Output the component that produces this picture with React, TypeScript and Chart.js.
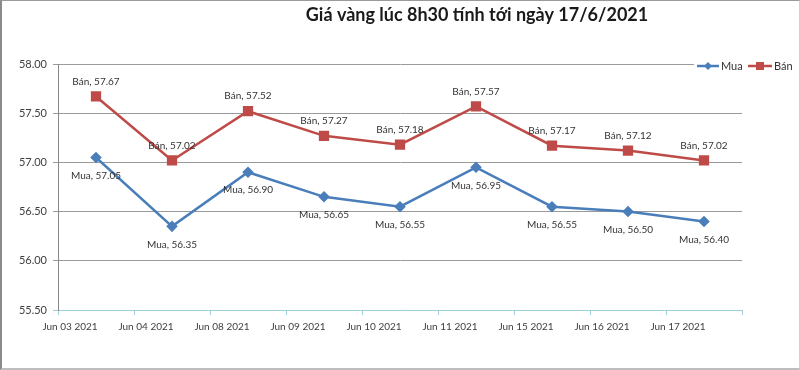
import React, { useEffect, useRef } from "react";
import { Chart, registerables } from "chart.js";

Chart.register(...registerables);

const categories = [
  "Jun 03 2021", "Jun 04 2021", "Jun 08 2021", "Jun 09 2021", "Jun 10 2021",
  "Jun 11 2021", "Jun 15 2021", "Jun 16 2021", "Jun 17 2021",
];
const muaValues = [57.05, 56.35, 56.9, 56.65, 56.55, 56.95, 56.55, 56.5, 56.4];
const banValues = [57.67, 57.02, 57.52, 57.27, 57.18, 57.57, 57.17, 57.12, 57.02];
const seriesNames = ["Mua", "Bán"];
const titleText = "Giá vàng lúc 8h30 tính tới ngày 17/6/2021";

const BLUE = "#4a7ebb";
const RED = "#be4b48";
const FONT = "Lato, 'Open Sans', sans-serif";

const extrasPlugin = {
  id: "extras",
  afterDatasetsDraw(chart: any) {
    const ctx = chart.ctx;
    ctx.save();
    // data labels
    ctx.font = `10px ${FONT}`;
    ctx.fillStyle = "#333";
    ctx.textAlign = "center";
    ctx.textBaseline = "middle";
    chart.data.datasets.forEach((ds: any, di: number) => {
      const meta = chart.getDatasetMeta(di);
      meta.data.forEach((pt: any, i: number) => {
        const off = di === 0 ? 18 : -15;
        ctx.fillText(`${ds.label}, ${ds.data[i].toFixed(2)}`, pt.x, pt.y + off);
      });
    });
    // title
    ctx.font = `bold 18px ${FONT}`;
    ctx.fillStyle = "#1a1a1a";
    ctx.fillText(titleText, 477, 15);
    // legend
    ctx.fillStyle = "#fff";
    ctx.fillRect(694, 58, 104, 15);
    const ly = 66;
    const items = [
      { x: 697, w: 22, color: BLUE, name: seriesNames[0], shape: "diamond" },
      { x: 748, w: 24, color: RED, name: seriesNames[1], shape: "square" },
    ];
    items.forEach((it) => {
      ctx.strokeStyle = it.color;
      ctx.lineWidth = 2.5;
      ctx.beginPath();
      ctx.moveTo(it.x, ly);
      ctx.lineTo(it.x + it.w, ly);
      ctx.stroke();
      ctx.fillStyle = it.color;
      const cx = it.x + it.w / 2;
      if (it.shape === "diamond") {
        ctx.beginPath();
        ctx.moveTo(cx, ly - 4);
        ctx.lineTo(cx + 4, ly);
        ctx.lineTo(cx, ly + 4);
        ctx.lineTo(cx - 4, ly);
        ctx.closePath();
        ctx.fill();
      } else {
        ctx.fillRect(cx - 4, ly - 4, 8, 8);
      }
      ctx.fillStyle = "#333";
      ctx.font = `11px ${FONT}`;
      ctx.textAlign = "left";
      ctx.fillText(it.name, it.x + it.w + 2, ly);
    });
    ctx.restore();
  },
};

export default function App() {
  const ref = useRef<HTMLCanvasElement>(null);
  useEffect(() => {
    if (!ref.current) return;
    const chart = new Chart(ref.current, {
      type: "line",
      data: {
        labels: categories,
        datasets: [
          {
            label: seriesNames[0],
            data: muaValues,
            borderColor: BLUE,
            backgroundColor: BLUE,
            borderWidth: 2.5,
            pointStyle: "rectRot",
            pointRadius: 4,
            pointHoverRadius: 4,
            tension: 0,
          },
          {
            label: seriesNames[1],
            data: banValues,
            borderColor: RED,
            backgroundColor: RED,
            borderWidth: 2.5,
            pointStyle: "rect",
            pointRadius: 5.5,
            pointHoverRadius: 5.5,
            tension: 0,
          },
        ],
      },
      options: {
        responsive: false,
        animation: false,
        layout: { padding: { top: 64, right: 58, left: 0, bottom: 0 } },
        plugins: {
          legend: { display: false },
          title: { display: false },
          tooltip: { enabled: false },
        },
        scales: {
          x: {
            type: "category",
            offset: true,
            grid: {
              offset: true,
              drawOnChartArea: false,
              drawTicks: true,
              tickLength: 5,
              color: "#9ccfd6",
            },
            border: { color: "#9ccfd6", width: 1 },
            ticks: {
              labelOffset: -26,
              padding: 6,
              maxRotation: 0,
              autoSkip: false,
              color: "#404040",
              font: { family: FONT, size: 10 },
            },
            afterFit(scale: any) {
              scale.height = 60;
            },
          },
          y: {
            min: 55.5,
            max: 58,
            ticks: {
              stepSize: 0.5,
              color: "#404040",
              padding: 6,
              font: { family: FONT, size: 11 },
              callback: (v: any) => Number(v).toFixed(2),
            },
            grid: {
              color: (c: any) => (c.tick && c.tick.value === 55.5 ? "#9ccfd6" : "#9a9a9a"),
              tickLength: 5,
            },
            border: { color: "#888", width: 1 },
            afterFit(scale: any) {
              scale.width = 58;
            },
          },
        },
      },
      plugins: [extrasPlugin],
    });
    return () => chart.destroy();
  }, []);
  return (
    <div style={{ position: "absolute", left: 0, top: 0, width: 800, height: 370, background: "#fff" }}>
      <canvas ref={ref} width={800} height={370} style={{ display: "block" }} />
      <div
        style={{
          position: "absolute",
          left: 0,
          top: 0,
          width: 800,
          height: 370,
          boxSizing: "border-box",
          borderTop: "1px solid #9a9a9a",
          borderLeft: "2px solid #8a8a8a",
          borderBottom: "2px solid #bdbdbd",
          borderRight: "1px solid #d0d0d0",
          pointerEvents: "none",
        }}
      />
    </div>
  );
}
